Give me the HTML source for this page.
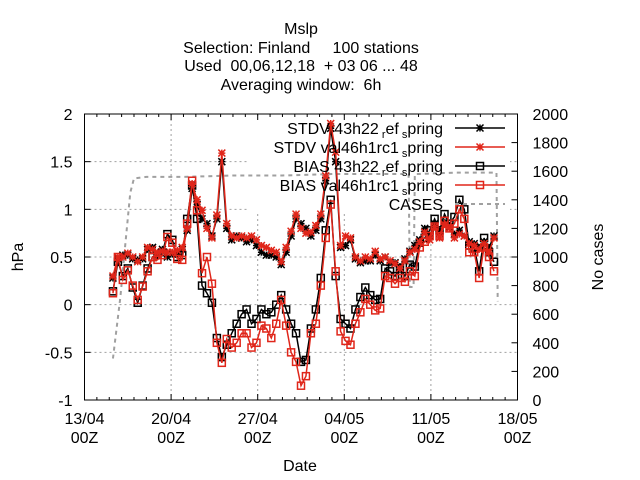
<!DOCTYPE html>
<html><head><meta charset="utf-8"><style>
body{margin:0;background:#fff}
svg{display:block;font-family:"Liberation Sans",sans-serif}
</style></head><body>
<svg id="c" width="640" height="480" viewBox="0 0 640 480">
<g font-size="16" text-anchor="middle" fill="#000">
<text x="301" y="34">Mslp</text>
<text x="301" y="53" xml:space="preserve">Selection: Finland     100 stations</text>
<text x="301" y="71" xml:space="preserve">Used  00,06,12,18  + 03 06 ... 48</text>
<text x="301" y="90" xml:space="preserve">Averaging window:  6h</text>
</g>
<g id="grid"></g>
<rect x="248" y="118" width="262" height="94" fill="#fff"/>
<g id="axes"></g>
<g id="series"></g>
<g id="legend"></g>
<text x="300" y="471" font-size="16" text-anchor="middle">Date</text>
<text transform="translate(23,257) rotate(-90)" font-size="16" text-anchor="middle">hPa</text>
<text transform="translate(603,257) rotate(-90)" font-size="16" text-anchor="middle">No cases</text>
</svg>
<script>
const xTickLabels=["13/04","20/04","27/04","04/05","11/05","18/05"];
const xTickDays=[0,7,14,21,28,35];
const yTicks=[-1,-0.5,0,0.5,1,1.5,2];
const y2Ticks=[0,200,400,600,800,1000,1200,1400,1600,1800,2000];
const startDay=2.3;
const stepDays=0.4;
const stdvRef=[0.28,0.48,0.52,0.52,0.48,0.47,0.48,0.58,0.6,0.52,0.58,0.5,0.53,0.55,0.58,0.78,1.22,1.05,0.9,0.85,0.72,0.9,1.5,0.8,0.68,0.72,0.7,0.66,0.68,0.62,0.55,0.52,0.52,0.5,0.42,0.55,0.72,0.9,0.85,0.8,0.72,0.78,0.9,1.3,1.85,1.5,0.6,0.62,0.68,0.48,0.44,0.46,0.46,0.52,0.46,0.5,0.44,0.44,0.4,0.48,0.56,0.62,0.68,0.8,0.72,0.85,0.75,0.86,0.82,0.74,0.78,0.72,0.66,0.64,0.6,0.66,0.6,0.72];
const stdvVal=[0.3,0.5,0.5,0.54,0.5,0.45,0.5,0.6,0.58,0.55,0.56,0.55,0.55,0.57,0.6,0.8,1.27,1.1,0.99,0.8,0.7,0.94,1.59,0.85,0.72,0.7,0.72,0.7,0.72,0.68,0.62,0.6,0.57,0.55,0.45,0.6,0.77,0.95,0.8,0.75,0.76,0.83,0.95,1.35,1.9,1.6,0.62,0.72,0.7,0.5,0.46,0.5,0.48,0.56,0.48,0.5,0.46,0.43,0.38,0.46,0.55,0.58,0.66,0.76,0.68,0.82,0.7,0.84,0.8,0.7,0.74,0.72,0.64,0.62,0.58,0.64,0.55,0.7];
const biasRef=[0.14,0.45,0.3,0.38,0.18,0.02,0.2,0.38,0.5,0.52,0.55,0.74,0.68,0.5,0.52,0.9,1.25,0.9,0.2,0.12,0.02,-0.35,-0.55,-0.42,-0.3,-0.2,-0.1,-0.05,-0.2,-0.15,-0.05,-0.1,-0.08,0.0,0.1,-0.05,-0.2,-0.3,-0.6,-0.58,-0.25,-0.05,0.28,0.78,1.1,0.3,-0.15,-0.2,-0.25,-0.05,0.08,0.18,0.1,0.05,0.06,0.38,0.35,0.3,0.38,0.3,0.42,0.4,0.65,0.7,0.78,0.9,0.78,0.95,0.85,0.92,1.1,1.0,0.62,0.6,0.35,0.7,0.55,0.45];
const biasVal=[0.12,0.5,0.26,0.36,0.2,0.05,0.19,0.35,0.5,0.47,0.52,0.71,0.65,0.48,0.47,0.85,1.3,0.99,0.33,0.5,0.22,-0.4,-0.61,-0.36,-0.45,-0.4,-0.3,-0.3,-0.45,-0.4,-0.22,-0.25,-0.35,-0.2,0.05,-0.22,-0.5,-0.6,-0.85,-0.75,-0.3,-0.2,0.2,0.7,1.05,0.35,-0.28,-0.38,-0.42,-0.2,-0.08,0.06,0.0,-0.06,-0.04,0.3,0.28,0.22,0.28,0.24,0.35,0.3,0.6,0.66,0.72,0.82,0.72,0.88,0.8,0.85,1.0,0.9,0.55,0.55,0.28,0.6,0.5,0.35];
const caseDays=[2.3,2.9,3.3,3.7,4.0,5,8,12,16,20,24,26.2,26.3,26.6,26.7,30,33.3,33.4];
const caseVals=[290,720,1090,1450,1550,1560,1560,1570,1570,1580,1580,1580,790,790,1580,1590,1590,690];

const NS="http://www.w3.org/2000/svg";
const L=84.5,R=517.5,T=114,B=400;
const xs=d=>L+d*(R-L)/35;
const ys=v=>T+(2-v)*(B-T)/3;
const y2s=c=>B-c*(B-T)/2000;
function mk(tag,parent,attrs){const e=document.createElementNS(NS,tag);for(const k in attrs)e.setAttribute(k,attrs[k]);parent.appendChild(e);return e;}
const grid=document.getElementById('grid'),axes=document.getElementById('axes'),ser=document.getElementById('series'),leg=document.getElementById('legend');
yTicks.forEach(v=>{if(v>-1&&v<2){const g=mk('line',grid,{x1:L,x2:R,y1:ys(v),y2:ys(v),stroke:'#a0a0a0','stroke-dasharray':'2,3'});

}});
xTickDays.forEach(d=>{if(d>0&&d<35){const g=mk('line',grid,{x1:xs(d),x2:xs(d),y1:T,y2:B,stroke:'#a0a0a0','stroke-dasharray':'2,3'});

}});
const fr=mk('rect',axes,{x:L,y:T,width:R-L,height:B-T,fill:'none',stroke:'#000','stroke-width':1});


for(let d=0;d<=35;d++){const len=xTickDays.includes(d)?6:3;
mk('line',axes,{x1:xs(d),x2:xs(d),y1:B,y2:B-len,stroke:'#000'});mk('line',axes,{x1:xs(d),x2:xs(d),y1:T,y2:T+len,stroke:'#000'});}
xTickDays.forEach((d,i)=>{const t=mk('text',axes,{x:xs(d),y:B+24,'font-size':16,'text-anchor':'middle'});t.textContent=xTickLabels[i];


const t2=mk('text',axes,{x:xs(d),y:B+43,'font-size':16,'text-anchor':'middle'});t2.textContent='00Z';

});
yTicks.forEach(v=>{mk('line',axes,{x1:L,x2:L+6,y1:ys(v),y2:ys(v),stroke:'#000'});
const t=mk('text',axes,{x:L-12,y:ys(v)+6,'font-size':16,'text-anchor':'end'});t.textContent=String(v);

});
y2Ticks.forEach(c=>{mk('line',axes,{x1:R,x2:R-6,y1:y2s(c),y2:y2s(c),stroke:'#000'});
const t=mk('text',axes,{x:R+15,y:y2s(c)+6,'font-size':16,'text-anchor':'start'});t.textContent=String(c);

});
function star(g,x,y,col){const s=3.5;mk('path',g,{d:`M${x-s},${y}H${x+s}M${x},${y-s}V${y+s}M${x-s},${y-s}L${x+s},${y+s}M${x-s},${y+s}L${x+s},${y-s}`,stroke:col,'stroke-width':1.5,fill:'none'});}
function sq(g,x,y,col){mk('rect',g,{x:x-3.5,y:y-3.5,width:7,height:7,stroke:col,'stroke-width':1.5,fill:'none'});}
function drawSeries(vals,col,marker,name){
const g=mk('g',ser,{});


const pts=vals.map((v,i)=>[xs(startDay+i*stepDays),ys(v)]);
mk('polyline',g,{points:pts.map(p=>p.join(',')).join(' '),fill:'none',stroke:col,'stroke-width':1.5});
pts.forEach(p=>marker(g,p[0],p[1],col));}
const cg=mk('g',ser,{});


mk('polyline',cg,{points:caseDays.map((d,i)=>xs(d)+','+y2s(caseVals[i])).join(' '),fill:'none',stroke:'#a0a0a0','stroke-width':2,'stroke-dasharray':'4,4'});
drawSeries(stdvRef,'#000',star,'stdv-ref-series');
drawSeries(biasRef,'#000',sq,'bias-ref-series');
drawSeries(stdvVal,'#e0261a',star,'stdv-val-series');
drawSeries(biasVal,'#e0261a',sq,'bias-val-series');
const entries=[
['STDV 43h22','ref','spring','#000',star],
['STDV val46h1rc1','','spring','#e0261a',star],
['BIAS 43h22','ref','spring','#000',sq],
['BIAS val46h1rc1','','spring','#e0261a',sq]];
entries.forEach((e,i)=>{const y=128+i*19;
const g=mk('g',leg,{});


const t=mk('text',g,{x:443,y:y+6,'font-size':16,'text-anchor':'end'});
t.innerHTML=e[1]?`${e[0]}<tspan font-size="11" dy="4"> r</tspan><tspan dy="-4">ef</tspan><tspan font-size="11" dy="4"> s</tspan><tspan dy="-4">pring</tspan>`:`${e[0]}<tspan font-size="11" dy="4"> s</tspan><tspan dy="-4">pring</tspan>`;
mk('line',g,{x1:455,x2:505,y1:y,y2:y,stroke:e[3],'stroke-width':1.5});
e[4](g,480,y,e[3]);});
const cgl=mk('g',leg,{});


const ct=mk('text',cgl,{x:443,y:210,'font-size':16,'text-anchor':'end'});ct.textContent='CASES';
mk('line',cgl,{x1:455,x2:505,y1:204,y2:204,stroke:'#a0a0a0','stroke-width':2,'stroke-dasharray':'4,4'});
</script>
</body></html>
